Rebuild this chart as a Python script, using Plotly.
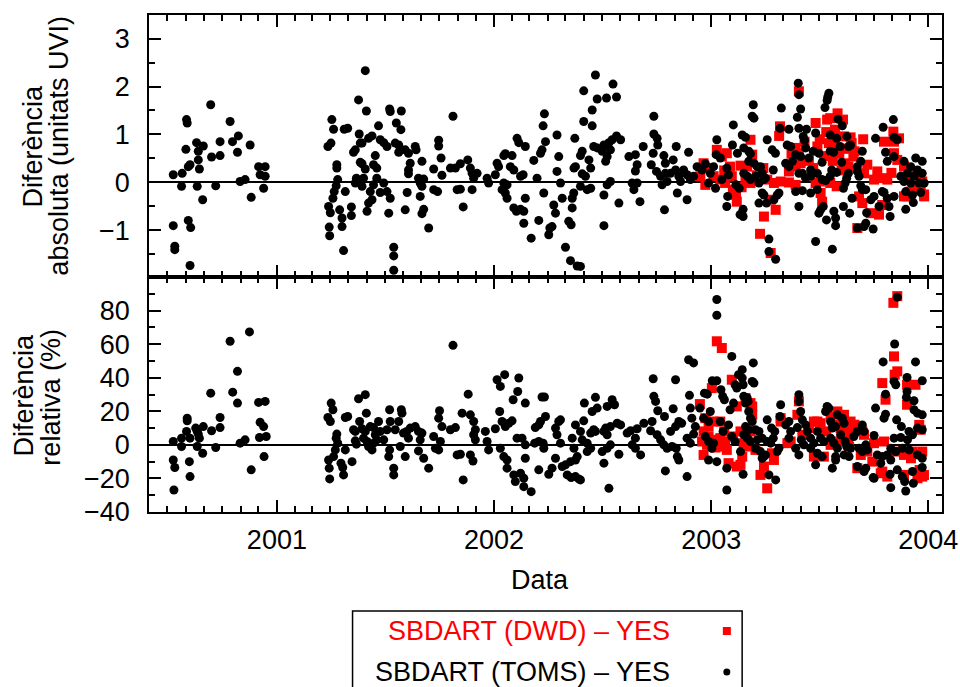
import pandas as pd
import plotly.graph_objects as go

# ---------------- data (decimal year, value) ----------------
abs_toms = [
 (2000.524,0.16),(2000.565,0.19),(2000.562,-0.08),(2000.585,1.31),(2000.588,1.24),(2000.582,0.69),(2000.593,0.33),(2000.601,0.37),
 (2000.631,0.83),(2000.639,0.65),(2000.639,0.47),(2000.644,0.28),(2000.662,0.76),(2000.634,-0.08),(2000.659,-0.36),(2000.696,1.62),
 (2000.700,0.53),(2000.719,-0.07),(2000.739,0.85),(2000.739,0.56),(2000.785,1.27),(2000.796,0.85),(2000.819,0.63),(2000.823,0.97),
 (2000.831,0.02),(2000.854,0.06),(2000.877,0.78),(2000.882,-0.31),(2000.916,0.33),(2000.946,0.33),(2000.923,0.16),(2000.946,0.13),
 (2000.939,-0.12),(2000.524,-0.90),(2000.531,-1.33),(2000.531,-1.40),(2000.593,-0.79),(2000.604,-0.94),(2000.601,-1.73),
 (2001.235,0.75),(2001.249,0.82),(2001.253,1.31),(2001.261,1.11),(2001.276,0.37),(2001.276,0.30),(2001.280,0.06),(2001.273,-0.07),
 (2001.264,-0.19),(2001.258,-0.33),(2001.238,-0.50),(2001.246,-0.63),(2001.289,-0.57),(2001.300,-0.74),(2001.300,-0.92),(2001.241,-0.93),
 (2001.243,-1.11),(2001.307,-1.42),(2001.310,1.11),(2001.326,1.13),(2001.315,-0.19),(2001.343,-0.51),(2001.343,-0.69),(2001.353,0.63),
 (2001.361,0.68),(2001.366,0.09),(2001.361,-0.01),(2001.376,1.72),(2001.379,1.01),(2001.384,0.82),(2001.384,0.42),
 (2001.407,2.33),(2001.412,1.49),(2001.392,0.82),(2001.422,0.92),(2001.438,0.97),(2001.453,0.56),(2001.468,1.18),(2001.476,0.89),
 (2001.492,0.83),(2001.519,1.53),(2001.522,1.48),(2001.573,1.49),(2001.550,1.24),(2001.571,1.10),(2001.507,0.75),(2001.545,0.82),
 (2001.561,0.78),(2001.561,0.63),(2001.591,0.68),(2001.606,0.61),(2001.637,0.75),(2001.641,0.68),(2001.614,0.40),(2001.606,0.26),
 (2001.606,0.18),(2001.668,0.44),(2001.652,0.09),(2001.676,0.07),(2001.660,-0.01),(2001.668,-0.08),(2001.660,-0.29),(2001.676,-0.56),
 (2001.668,-0.65),(2001.699,-0.95),(2001.722,0.28),(2001.745,0.88),(2001.745,0.76),(2001.756,0.51),(2001.760,0.15),(2001.722,-0.15),
 (2001.740,-0.19),(2001.811,1.38),(2001.799,0.30),(2001.822,0.30),(2001.845,0.39),(2001.879,0.47),(2001.891,0.30),(2001.899,0.19),
 (2001.906,0.09),(2001.922,0.19),(2001.830,-0.15),(2001.845,-0.14),(2001.899,-0.15),(2001.858,-0.51),(2001.968,0.09),(2001.975,-0.01),
 (2002.006,0.16),(2002.014,0.40),(2002.021,0.33),(2002.045,0.56),(2002.052,0.60),(2002.083,0.56),(2002.075,0.33),(2002.091,0.26),
 (2002.045,-0.01),(2002.060,-0.05),(2002.037,-0.15),(2002.052,-0.22),(2002.060,-0.33),(2002.106,0.92),(2002.114,0.83),(2002.122,0.13),
 (2002.134,0.16),(2002.144,0.75),(2002.091,-0.53),(2002.103,-0.60),(2002.122,-0.56),(2002.137,-0.60),(2002.137,-0.85),(2002.144,-0.33),
 (2002.171,-1.16),(2002.183,0.46),(2002.198,0.09),(2002.206,-0.79),(2002.214,0.61),(2002.221,0.68),(2002.226,1.18),(2002.232,1.43),
 (2002.237,0.85),(2002.229,-0.22),(2002.257,-0.95),(2002.267,-0.92),(2002.252,-1.09),(2002.290,0.99),(2002.298,0.54),(2002.290,0.23),
 (2002.275,-0.47),(2002.283,-0.64),(2001.538,-1.35),(2001.538,-1.53),(2001.538,-1.83),(2001.600,-0.21),(2001.591,-0.57),(2001.515,-0.64),
 (2001.522,-0.33),(2001.460,0.09),(2001.445,-0.05),(2001.430,-0.19),(2001.438,-0.36),(2001.422,-0.43),(2001.415,-0.60),(2001.392,-0.08),
 (2001.399,0.09),(2001.476,-0.21),(2001.492,-0.01),(2001.445,0.37),(2001.460,0.30),(2001.392,0.39),(2001.407,0.28),(2001.507,-0.19),
 (2002.467,2.24),(2002.548,2.05),(2002.413,1.91),(2002.475,1.74),(2002.518,1.76),(2002.564,1.78),(2002.452,1.51),(2002.413,1.27),
 (2002.452,1.18),(2002.372,0.92),(2002.406,0.65),(2002.398,0.56),(2002.459,0.75),(2002.475,0.72),(2002.506,0.78),(2002.529,0.83),
 (2002.544,0.89),(2002.564,0.97),(2002.583,0.89),(2002.498,0.65),(2002.521,0.54),(2002.536,0.68),(2002.514,0.44),(2002.437,0.47),
 (2002.445,0.30),(2002.368,0.30),(2002.375,0.33),(2002.406,0.18),(2002.421,0.13),(2002.398,-0.08),(2002.429,-0.15),(2002.445,-0.12),
 (2002.367,-0.22),(2002.360,-0.33),(2002.360,-0.53),(2002.306,-0.01),(2002.314,-0.33),(2002.521,-0.05),(2002.536,0.02),(2002.506,-0.26),
 (2002.575,-0.43),(2002.506,-0.90),(2002.329,-1.35),(2002.352,-1.63),(2002.383,-1.74),(2002.398,-1.75),(2002.344,-0.81),(2002.355,-0.88),
 (2002.621,0.54),(2002.651,0.58),(2002.659,0.37),(2002.651,0.24),(2002.636,-0.01),(2002.659,-0.01),(2002.644,-0.15),(2002.672,-0.40),
 (2002.687,0.75),(2002.736,1.38),(2002.736,1.01),(2002.751,0.92),(2002.754,0.78),(2002.733,0.61),(2002.724,0.37),(2002.782,0.56),
 (2002.789,0.40),(2002.748,0.23),(2002.767,0.13),(2002.789,0.19),(2002.774,-0.05),(2002.797,0.02),(2002.785,-0.57),(2002.825,0.47),
 (2002.839,0.75),(2002.813,0.19),(2002.836,0.26),(2002.851,0.13),(2002.859,0.02),(2002.844,-0.22),(2002.889,-0.36),(2002.896,0.63),
 (2002.873,0.26),(2002.889,0.16),(2002.904,0.06),(2002.919,0.13),(2002.935,0.33),(2002.958,0.26),(2002.973,0.39),(2002.988,-0.01),
 (2002.996,0.19),(2003.011,0.33),(2003.026,0.89),(2003.023,0.58),(2003.042,0.51),(2003.020,-0.12),(2003.049,0.06),(2003.072,0.30),
 (2003.080,0.16),(2003.072,-0.50),(2003.076,-0.29),(2003.102,1.20),(2003.098,0.78),(2003.121,0.61),(2003.114,-0.05),(2003.129,-0.12),
 (2003.133,-0.67),
 (2003.401,2.07),(2003.404,1.83),(2003.542,1.86),(2003.537,1.78),(2003.534,1.71),(2003.524,1.56),(2003.194,1.62),(2003.323,1.55),
 (2003.412,1.53),(2003.189,1.38),(2003.197,1.34),(2003.397,1.36),(2003.584,1.32),(2003.839,1.31),(2003.317,1.13),(2003.358,1.11),
 (2003.404,1.13),(2003.439,1.11),(2003.604,1.18),(2003.792,1.15),(2003.143,0.99),(2003.158,0.94),(2003.258,0.89),(2003.424,0.96),
 (2003.430,0.88),(2003.481,1.03),(2003.548,0.99),(2003.578,0.92),(2003.625,0.96),(2003.633,0.75),(2003.757,0.92),(2003.842,0.94),
 (2003.857,0.89),(2003.150,0.72),(2003.173,0.65),(2003.181,0.60),(2003.281,0.68),(2003.296,0.61),(2003.350,0.78),(2003.366,0.75),
 (2003.389,0.58),(2003.412,0.54),(2003.435,0.72),(2003.450,0.51),(2003.470,0.65),(2003.496,0.61),(2003.511,0.42),(2003.548,0.65),
 (2003.564,0.63),(2003.594,0.75),(2003.601,0.42),(2003.642,0.78),(2003.696,0.65),(2003.689,0.44),(2003.673,0.33),(2003.803,0.63),
 (2003.811,0.44),(2003.842,0.54),(2003.888,0.44),(2003.942,0.51),(2003.972,0.44),(2003.919,0.33),(2003.950,0.26),(2003.904,0.19),
 (2003.873,0.13),(2003.935,0.13),(2003.972,0.19),(2003.888,0.02),(2003.919,-0.01),(2003.958,-0.01),(2003.981,-0.01),(2003.896,-0.19),
 (2003.927,-0.26),(2003.965,-0.21),(2003.896,-0.56),(2003.931,-0.42),(2003.173,0.44),(2003.197,0.40),(2003.212,0.33),(2003.227,0.33),
 (2003.235,0.19),(2003.150,0.19),(2003.166,0.13),(2003.181,0.06),(2003.204,0.13),(2003.220,-0.01),(2003.243,0.06),(2003.250,0.09),
 (2003.286,0.26),(2003.235,-0.22),(2003.243,-0.26),(2003.255,-0.43),(2003.289,-0.36),(2003.304,-0.26),(2003.312,-0.22),(2003.220,-0.43),
 (2003.147,-0.56),(2003.147,-0.71),(2003.266,-1.18),(2003.266,-1.44),(2003.297,-1.60),(2003.389,-0.19),(2003.420,-0.17),(2003.458,-0.22),
 (2003.489,-0.15),(2003.404,-0.50),(2003.481,-1.23),(2003.558,-1.39),(2003.504,-0.57),(2003.516,-0.50),(2003.496,-0.64),(2003.531,-0.78),
 (2003.565,-0.60),(2003.573,-0.74),(2003.573,-0.90),(2003.458,0.26),(2003.489,0.19),(2003.511,0.06),(2003.527,0.04),(2003.548,0.13),
 (2003.555,0.26),(2003.578,0.21),(2003.609,-0.12),(2003.617,-0.01),(2003.624,0.09),(2003.632,0.19),(2003.609,-0.50),(2003.638,-0.64),
 (2003.649,-0.33),(2003.673,0.23),(2003.681,0.13),(2003.689,-0.07),(2003.696,-0.15),(2003.712,-0.15),(2003.716,-0.63),(2003.704,-0.92),
 (2003.712,-0.85),(2003.673,-0.95),(2003.746,-0.97),(2003.735,-0.36),(2003.750,-0.29),(2003.788,-0.19),(2003.796,-0.21),(2003.811,-0.33),
 (2003.819,-0.50),(2003.824,-0.71),(2003.842,-0.29),(2003.773,-0.50),(2003.343,0.40),(2003.358,0.33),(2003.374,0.44),(2003.404,0.19),
 (2003.420,0.19),(2003.435,0.09),(2003.458,0.13),
]

abs_dwd = [
 (2003.026,0.68),(2003.049,0.54),(2003.072,0.61),(2002.965,0.40),(2002.988,0.30),(2002.950,0.13),(2002.973,-0.05),(2003.011,0.13),
 (2003.042,0.06),(2003.064,-0.01),(2003.087,0.33),(2003.095,0.13),(2003.118,-0.40),(2003.114,-0.26),(2003.135,0.35),(2003.140,-0.10),
 (2003.404,1.90),(2003.317,1.17),(2003.313,0.97),(2003.181,0.89),(2003.189,0.58),(2003.481,1.24),(2003.534,1.31),(2003.548,1.34),
 (2003.582,1.44),(2003.607,1.31),(2003.642,0.94),(2003.612,0.96),(2003.839,1.06),(2003.842,0.85),(2003.865,0.92),(2003.796,0.85),
 (2003.389,0.72),(2003.404,0.61),(2003.489,0.75),(2003.542,0.82),(2003.565,0.78),(2003.166,0.33),(2003.158,0.09),(2003.181,-0.01),
 (2003.358,0.23),(2003.389,0.33),(2003.412,0.40),(2003.258,0.06),(2003.289,-0.01),(2003.320,0.02),(2003.358,0.00),(2003.389,-0.05),
 (2003.481,-0.01),(2003.504,0.02),(2003.548,-0.01),(2003.578,-0.08),(2003.504,-0.22),(2003.511,-0.40),(2003.617,0.40),(2003.632,0.33),
 (2003.655,0.54),(2003.647,0.82),(2003.719,0.37),(2003.704,0.19),(2003.681,-0.29),(2003.696,-0.43),(2003.735,-0.64),(2003.773,-0.67),
 (2003.673,-0.95),(2003.750,0.06),(2003.796,0.09),(2003.788,-0.47),(2003.842,0.61),(2003.857,0.47),(2003.888,0.33),(2003.942,0.19),
 (2003.972,0.02),(2003.981,-0.29),(2003.965,-0.08),(2003.904,-0.29),(2003.243,-0.71),(2003.225,-1.07),(2003.274,-1.47),(2003.297,-0.57),
 (2003.274,-0.36),(2003.765,0.23),(2003.811,0.06),(2003.888,-0.29),(2003.919,-0.19),
 (2003.450,0.45),(2003.470,0.30),(2003.520,0.55),(2003.560,0.45),(2003.590,0.60),(2003.620,0.70),(2003.660,0.65),(2003.600,0.25),
 (2003.530,1.05),(2003.570,1.10),(2003.500,0.90),(2003.430,0.85),(2003.370,0.60),(2003.700,0.90),(2003.240,0.30),(2003.210,0.15),
 (2003.060,0.25),(2003.100,-0.15),(2003.910,0.10),(2003.950,-0.15),(2003.980,-0.25),(2003.830,0.20),
]

rel_toms = [
 (2000.524,2.0),(2000.562,4.0),(2000.562,-1.0),(2000.585,8.0),(2000.588,15.9),(2000.588,14.3),(2000.601,4.0),(2000.627,10.0),
 (2000.634,8.0),(2000.639,6.4),(2000.644,4.0),(2000.634,-1.0),(2000.659,-5.0),(2000.662,10.9),(2000.696,30.8),(2000.700,8.4),
 (2000.719,-1.6),(2000.739,16.3),(2000.739,10.3),(2000.785,61.7),(2000.797,31.4),(2000.819,24.9),(2000.819,43.8),(2000.831,1.0),
 (2000.854,3.0),(2000.874,67.3),(2000.882,-14.9),(2000.916,25.3),(2000.946,25.9),(2000.923,13.5),(2000.939,10.9),(2000.920,4.4),
 (2000.951,5.0),(2000.941,-7.0),(2000.524,-9.0),(2000.531,-13.5),(2000.598,-10.0),(2000.601,-18.9),(2000.527,-26.9),
 (2001.250,24.9),(2001.258,20.9),(2001.235,16.3),(2001.246,13.9),(2001.276,6.4),(2001.273,4.0),(2001.280,1.0),(2001.269,-3.0),
 (2001.261,-7.0),(2001.238,-9.0),(2001.241,-13.9),(2001.295,-10.9),(2001.303,-13.5),(2001.307,-17.9),(2001.243,-20.3),(2001.315,-3.0),
 (2001.315,16.3),(2001.326,16.9),(2001.346,-10.0),(2001.353,9.0),(2001.361,8.0),(2001.366,0.4),(2001.361,2.4),(2001.376,27.5),
 (2001.381,13.9),
 (2001.407,29.9),(2001.412,18.9),(2001.392,9.6),(2001.407,8.0),(2001.430,10.9),(2001.445,10.3),(2001.399,4.0),(2001.415,2.0),
 (2001.422,-1.0),(2001.438,-3.0),(2001.445,1.0),(2001.460,3.0),(2001.453,6.0),(2001.468,13.9),(2001.476,8.0),(2001.492,3.0),
 (2001.507,9.0),(2001.519,20.9),(2001.522,13.9),(2001.519,-3.0),(2001.515,-7.0),(2001.538,-13.9),(2001.538,-17.9),(2001.545,9.0),
 (2001.561,13.9),(2001.573,20.9),(2001.576,18.9),(2001.568,-1.0),(2001.591,-7.0),(2001.583,7.0),(2001.598,8.0),(2001.606,4.0),
 (2001.614,10.0),(2001.637,10.9),(2001.652,8.0),(2001.668,7.0),(2001.660,3.0),(2001.652,-3.6),(2001.676,-8.0),(2001.699,-13.9),
 (2001.722,5.0),(2001.730,-2.0),(2001.745,-3.0),(2001.749,20.3),(2001.745,15.9),(2001.760,10.9),(2001.753,2.0),(2001.799,9.0),
 (2001.822,10.3),(2001.811,59.3),(2001.830,-6.0),(2001.845,-5.6),(2001.858,-20.9),(2001.853,18.9),(2001.881,30.2),(2001.891,17.9),
 (2001.906,13.9),(2001.914,9.0),(2001.906,6.0),(2001.914,3.0),(2001.891,-6.0),(2001.903,-9.6),(2001.960,8.0),(2001.968,2.0),
 (2001.975,-3.0),(2002.006,9.6),(2002.014,38.8),(2002.029,34.8),(2002.049,41.8),(2002.026,19.9),(2002.037,13.9),(2002.052,10.9),
 (2002.068,12.9),(2002.083,14.3),(2002.029,-2.0),(2002.045,-7.0),(2002.060,-9.0),(2002.060,-13.9),(2002.114,39.8),(2002.109,31.8),
 (2002.088,26.9),(2002.144,24.9),(2002.106,4.0),(2002.129,4.0),(2002.144,0.0),(2002.144,-8.0),(2002.091,-17.9),(2002.098,-21.9),
 (2002.122,-16.9),(2002.137,-19.9),(2002.137,-24.9),(2002.171,-27.9),(2002.190,10.3),(2002.206,11.9),(2002.187,1.0),(2002.206,2.0),
 (2002.226,1.0),(2002.206,-14.9),(2002.221,28.5),(2002.232,28.5),(2002.237,16.9),(2002.214,13.9),(2002.229,-2.0),(2002.252,-17.5),
 (2002.267,-13.9),(2002.283,10.0),(2002.290,6.0),(2002.298,13.9),(2002.283,-8.0),
 (2002.314,-12.9),(2002.329,-11.9),(2002.337,-17.9),(2002.355,-19.5),(2002.375,-18.9),(2002.390,-20.3),(2002.398,-20.9),(2002.306,14.9),
 (2002.306,1.0),(2002.360,4.0),(2002.368,-2.0),(2002.383,-7.0),(2002.375,-9.0),(2002.352,-10.0),(2002.375,11.9),(2002.398,8.0),
 (2002.413,14.3),(2002.416,24.9),(2002.406,3.0),(2002.429,1.0),(2002.445,-2.0),(2002.429,-4.0),(2002.445,7.0),(2002.459,9.0),
 (2002.467,8.0),(2002.452,19.9),(2002.467,28.3),(2002.475,21.9),(2002.506,8.0),(2002.514,10.0),(2002.521,6.0),(2002.536,10.9),
 (2002.498,-4.0),(2002.506,-10.9),(2002.521,-2.0),(2002.536,0.0),(2002.521,22.9),(2002.544,26.9),(2002.555,23.9),(2002.529,-25.9),
 (2002.567,12.9),(2002.583,11.9),(2002.575,-5.6),(2002.613,7.0),(2002.629,8.4),(2002.651,4.0),(2002.659,9.6),(2002.636,0.0),
 (2002.651,-2.0),(2002.675,-6.0),(2002.690,12.9),(2002.733,39.4),(2002.736,28.9),(2002.744,25.9),(2002.754,20.3),(2002.728,13.9),
 (2002.721,8.4),(2002.751,6.0),(2002.767,3.0),(2002.782,0.0),(2002.797,-2.0),(2002.785,16.9),(2002.789,-15.5),(2002.825,21.5),
 (2002.836,38.8),(2002.813,8.0),(2002.836,10.9),(2002.851,13.9),(2002.864,12.9),(2002.820,-1.0),(2002.839,-2.0),(2002.851,-9.0),
 (2002.844,-7.0),(2002.889,-18.9),(2002.896,50.7),(2002.919,48.8),(2002.900,29.5),(2002.904,21.9),(2002.911,15.9),(2002.927,10.9),
 (2002.919,6.4),(2002.889,4.0),(2002.904,1.0),(2002.948,21.9),(2002.969,30.8),(2002.982,30.2),(2002.965,15.9),(2002.988,13.9),
 (2002.996,19.9),(2002.973,5.0),(2002.988,2.0),(2003.003,-2.0),(2003.011,1.0),(2002.988,-9.0),(2003.026,-10.0),(2003.005,38.2),
 (2003.026,38.2),(2003.026,86.6),(2003.026,77.2),(2003.045,32.8),(2003.053,28.9),(2003.061,26.9),(2003.042,13.9),(2003.055,8.0),
 (2003.080,11.9),(2003.095,52.7),(2003.087,20.9),(2003.103,24.9),(2003.095,5.0),(2003.110,2.0),(2003.072,-26.9),(2003.072,-13.9),
 (2003.110,35.8),(2003.118,33.8),(2003.126,41.8),
 (2003.857,88.0),(2003.845,60.1),(2003.792,49.4),(2003.941,49.4),(2003.902,40.2),(2003.972,38.2),(2003.842,37.8),(2003.850,35.8),
 (2003.803,30.2),(2003.902,31.8),(2003.899,28.3),(2003.934,26.3),(2003.757,21.9),(2003.803,18.3),(2003.796,15.9),(2003.854,14.9),
 (2003.934,20.9),(2003.950,18.9),(2003.972,17.9),(2003.876,10.9),(2003.911,8.0),(2003.950,10.0),(2003.972,9.0),(2003.842,4.0),
 (2003.873,4.4),(2003.904,3.0),(2003.927,6.0),(2003.827,-2.0),(2003.850,-4.0),(2003.881,-2.0),(2003.912,-3.0),(2003.950,-6.0),
 (2003.972,-8.0),(2003.811,-6.0),(2003.827,-9.0),(2003.824,-17.5),(2003.827,-25.5),(2003.857,-14.9),(2003.880,-18.9),(2003.891,-21.9),
 (2003.896,-27.5),(2003.931,-22.9),(2003.927,-15.9),(2003.972,-13.5),(2003.750,5.6),(2003.765,-6.0),(2003.750,-19.9),(2003.781,-10.9),
 (2003.788,-7.0),(2003.143,39.8),(2003.147,35.8),(2003.150,28.9),(2003.143,44.8),(2003.194,48.8),(2003.197,36.8),(2003.189,37.8),
 (2003.166,27.9),(2003.170,25.9),(2003.158,24.9),(2003.173,19.9),(2003.181,15.9),(2003.189,13.9),(2003.158,10.9),(2003.173,9.0),
 (2003.204,9.0),(2003.220,8.0),(2003.150,6.0),(2003.166,4.0),(2003.181,2.0),(2003.212,3.0),(2003.235,4.0),(2003.204,-2.0),
 (2003.227,-4.0),(2003.243,-7.0),(2003.235,-8.0),(2003.250,-6.0),(2003.135,-4.0),(2003.147,-17.5),(2003.258,14.9),(2003.278,10.0),
 (2003.293,8.0),(2003.286,4.0),(2003.266,-17.9),(2003.297,-20.9),(2003.320,23.9),(2003.317,16.9),(2003.312,-2.0),(2003.304,-4.0),
 (2003.343,11.9),(2003.358,13.9),(2003.366,8.0),(2003.358,4.0),(2003.389,-2.0),(2003.404,-6.0),(2003.415,3.0),(2003.404,29.9),
 (2003.404,25.9),(2003.412,19.9),(2003.420,14.9),(2003.397,10.3),(2003.435,11.9),(2003.443,8.0),(2003.458,4.0),(2003.427,0.0),
 (2003.458,-2.0),(2003.473,1.0),(2003.489,8.0),(2003.504,4.0),(2003.519,2.0),(2003.489,-5.0),(2003.511,-7.0),(2003.481,-11.9),
 (2003.527,19.9),(2003.534,22.9),(2003.542,21.9),(2003.550,13.9),(2003.558,10.0),(2003.573,10.9),(2003.550,4.0),(2003.565,1.0),
 (2003.581,-2.0),(2003.573,-7.0),(2003.558,-13.9),(2003.573,-9.0),(2003.581,17.9),(2003.604,15.9),(2003.612,12.9),(2003.596,6.0),
 (2003.617,2.0),(2003.624,-1.0),(2003.612,-6.0),(2003.635,-7.0),(2003.642,-2.0),(2003.657,5.0),(2003.673,8.0),(2003.696,11.9),
 (2003.704,8.0),(2003.681,-2.0),(2003.696,-4.0),(2003.712,0.0),(2003.719,-3.0),(2003.673,-12.9),(2003.704,-15.9),(2003.712,-13.9),
 (2003.746,-19.5),(2003.258,2.0),(2003.274,1.0),
]

rel_dwd = [
 (2003.026,61.7),(2003.049,57.7),(2003.003,33.8),(2002.948,24.3),(2003.095,38.8),(2002.973,15.9),(2002.988,10.9),(2003.011,13.9),
 (2003.042,13.9),(2002.965,8.0),(2002.988,5.0),(2003.011,3.0),(2003.042,4.0),(2003.064,2.0),(2002.958,2.0),(2002.981,0.0),
 (2003.020,-1.6),(2003.049,-1.0),(2003.072,-3.0),(2002.965,-6.0),(2003.080,-10.9),(2003.118,-12.9),(2003.118,22.9),
 (2003.839,84.6),(2003.857,88.6),(2003.842,52.7),(2003.857,43.8),(2003.845,41.8),(2003.788,36.8),(2003.803,26.9),(2003.902,35.8),
 (2003.941,35.8),(2003.902,23.9),(2003.958,11.9),(2003.965,9.0),(2003.796,2.0),(2003.750,1.0),(2003.850,-4.0),(2003.888,-6.0),
 (2003.927,-4.0),(2003.972,-4.0),(2003.788,-15.9),(2003.811,-18.9),(2003.888,-17.9),(2003.972,-18.9),(2003.950,-19.9),(2003.181,24.9),
 (2003.189,22.9),(2003.158,27.9),(2003.189,17.9),(2003.135,8.0),(2003.166,6.0),(2003.181,8.0),(2003.150,1.0),(2003.173,-1.0),
 (2003.204,-3.0),(2003.143,-7.0),(2003.135,-11.9),(2003.243,-12.9),(2003.227,-17.9),(2003.258,-25.9),(2003.289,-9.0),(2003.320,15.9),
 (2003.320,13.9),(2003.351,1.0),(2003.366,2.0),(2003.397,17.9),(2003.404,25.9),(2003.473,13.9),(2003.489,13.9),(2003.504,12.9),
 (2003.473,-7.0),(2003.519,-7.0),(2003.550,16.9),(2003.581,19.9),(2003.612,17.9),(2003.596,10.0),(2003.617,8.0),(2003.642,13.9),
 (2003.649,10.0),(2003.550,0.0),(2003.581,2.0),(2003.635,-1.0),(2003.696,8.0),(2003.704,6.0),(2003.673,-13.9),(2003.689,-6.0),
 (2003.742,-10.0),(2003.781,-16.9),(2003.719,-4.0),
 (2003.500,10.0),(2003.530,8.0),(2003.560,12.0),(2003.600,14.0),(2003.630,4.0),(2003.660,12.0),(2003.450,10.0),(2003.420,6.0),
 (2003.280,-5.0),(2003.100,5.0),(2003.060,8.0),(2003.920,-8.0),(2003.960,-15.0),(2003.980,-18.0),
]

abs_ticks = [-1, 0, 1, 2, 3]
rel_ticks = [-40, -20, 0, 20, 40, 60, 80]
label_dwd = "SBDART (DWD) – YES"
label_toms = "SBDART (TOMS) – YES"


def to_dates(years):
    out = []
    for y in years:
        yr = int(y)
        start = pd.Timestamp(yr, 1, 1)
        end = pd.Timestamp(yr + 1, 1, 1)
        out.append(start + (end - start) * (y - yr))
    return out


def split(pairs):
    return to_dates([p[0] for p in pairs]), [p[1] for p in pairs]


FONT = "Liberation Sans, Arial, Helvetica, sans-serif"
RED = "#ff0000"

fig = go.Figure()
for pairs, color, sym, size, xa, ya in [
    (abs_dwd, RED, "square", 10, "x", "y"),
    (abs_toms, "black", "circle", 9, "x", "y"),
    (rel_dwd, RED, "square", 10, "x2", "y2"),
    (rel_toms, "black", "circle", 9, "x2", "y2"),
]:
    xs, ys = split(pairs)
    fig.add_trace(go.Scatter(x=xs, y=ys, mode="markers", xaxis=xa, yaxis=ya,
                             marker=dict(symbol=sym, size=size, color=color, line=dict(width=0)),
                             showlegend=False, hoverinfo="skip"))

# pixel geometry
L, R, T, B = 149.3, 941.7, 15.0, 512.0
W, H = R - L, B - T
split_y = 277.0


def px(x):
    return (x - L) / W


def py(y):
    return (B - y) / H


common_x = dict(type="date", range=["2000-05-31", "2004-01-24"], dtick="M12", tick0="2001-01-01",
                ticks="inside", ticklen=12, tickwidth=1.5, tickcolor="black",
                minor=dict(ticks="inside", ticklen=6, tickwidth=1.5, tickcolor="black", dtick="M1",
                           tick0="2001-01-01", showgrid=False),
                showline=True, linecolor="black", linewidth=1.5, mirror="ticks",
                showgrid=False, zeroline=False, automargin=False)

common_y = dict(ticks="inside", ticklen=12, tickwidth=1.5, tickcolor="black",
                showline=True, linecolor="black", linewidth=1.5, mirror="ticks",
                showgrid=False, zeroline=True, zerolinecolor="black", zerolinewidth=1.5,
                tickfont=dict(family=FONT, size=27, color="black"), ticklabelstandoff=12,
                automargin=False)

fig.update_layout(
    width=960, height=687,
    margin=dict(l=L, r=960 - R, t=T, b=687 - B, pad=0),
    paper_bgcolor="white", plot_bgcolor="white",
    font=dict(family=FONT, size=27, color="black"),
    showlegend=False,
    xaxis=dict(**common_x, anchor="y", domain=[0, 1], showticklabels=False),
    xaxis2=dict(**common_x, anchor="y2", domain=[0, 1], matches="x", showticklabels=True,
                tickformat="%Y", tickfont=dict(family=FONT, size=27, color="black"),
                ticklabelstandoff=3),
    yaxis=dict(**common_y, anchor="x", domain=[py(split_y), 1], range=[-1.97, 3.49],
               tickmode="array", tickvals=abs_ticks,
               minor=dict(ticks="inside", ticklen=6, tickwidth=1.5, tickcolor="black",
                          tickmode="linear", tick0=0, dtick=0.5, showgrid=False)),
    yaxis2=dict(**common_y, anchor="x2", domain=[0, py(split_y)], range=[-40, 100],
                tickmode="array", tickvals=rel_ticks,
                minor=dict(ticks="inside", ticklen=6, tickwidth=1.5, tickcolor="black",
                           tickmode="linear", tick0=0, dtick=10, showgrid=False)),
)

ann = []


def vtext(text, x, y):
    ann.append(dict(text=text, x=px(x), y=py(y), xref="paper", yref="paper", textangle=-90,
                    showarrow=False, xanchor="center", yanchor="middle",
                    font=dict(family=FONT, size=27, color="black")))


vtext("Diferència", 33, 146)
vtext("absoluta (unitats UVI)", 59, 146)
vtext("Diferència", 24, 395)
vtext("relativa (%)", 51, 397)

ann.append(dict(text="Data", x=px(540), y=py(580), xref="paper", yref="paper", showarrow=False,
                xanchor="center", yanchor="middle", font=dict(family=FONT, size=27, color="black")))
ann.append(dict(text=label_dwd, x=px(672), y=py(631), xref="paper", yref="paper", showarrow=False,
                xanchor="right", yanchor="middle", font=dict(family=FONT, size=27, color=RED)))
ann.append(dict(text=label_toms, x=px(672), y=py(672), xref="paper", yref="paper", showarrow=False,
                xanchor="right", yanchor="middle", font=dict(family=FONT, size=27, color="black")))
fig.update_layout(annotations=ann)

shapes = [
    dict(type="rect", xref="paper", yref="paper", x0=px(352.7), x1=px(742), y0=py(611), y1=py(705),
         line=dict(color="black", width=1.5), fillcolor="rgba(0,0,0,0)"),
    dict(type="rect", xref="paper", yref="paper", x0=px(722.7), x1=px(730.7), y0=py(635), y1=py(627),
         line=dict(width=0), fillcolor=RED),
    dict(type="circle", xref="paper", yref="paper", x0=px(723.2), x1=px(730.2), y0=py(675.5), y1=py(668.5),
         line=dict(width=0), fillcolor="black"),
]
fig.update_layout(shapes=shapes)

fig.write_html("out.html")
